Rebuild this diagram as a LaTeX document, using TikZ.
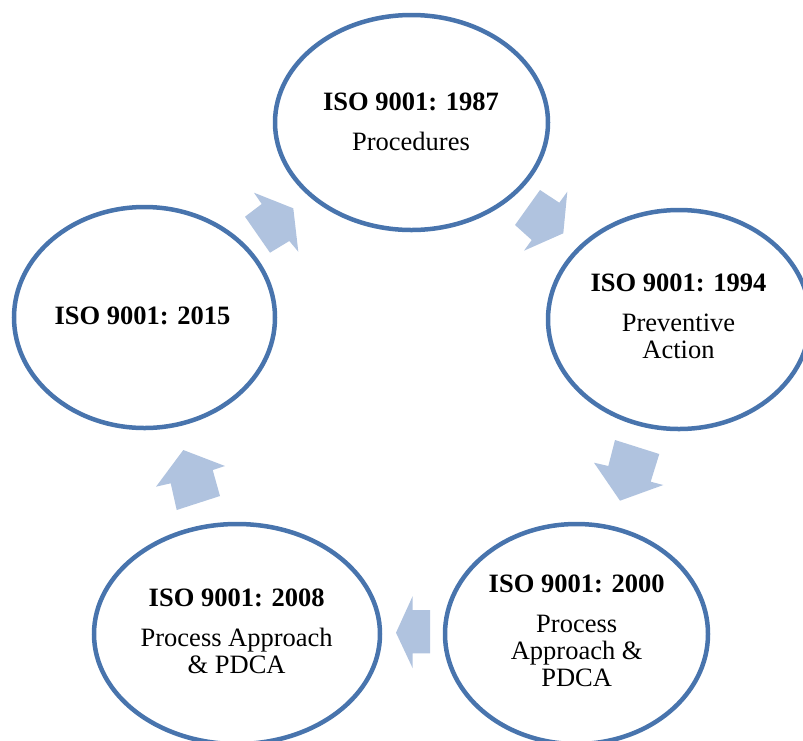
\documentclass[tikz,border=0pt]{standalone}
\usepackage{fontspec}
\setmainfont{Liberation Serif}
\usetikzlibrary{shapes.geometric}
\definecolor{ringblue}{RGB}{72,116,173}
\definecolor{arrowblue}{RGB}{176,195,223}
\tikzset{
  ring/.style={ellipse, draw=ringblue, line width=4.5pt, inner sep=0pt, fill=white},
  label/.style={align=center, inner sep=0pt, font=\fontsize{26.5}{27}\selectfont},
  blockarrow/.style={fill=arrowblue, draw=none}
}
\begin{document}
\begin{tikzpicture}[x=1pt,y=-1pt]
  \useasboundingbox (0,0) rectangle (803,740);
  \clip (0,0) rectangle (803,740);

  % cycle arrows
  \fill[blockarrow] (254,192.7) -- (293.3,208.3) -- (298.3,251.7) -- (289.3,241)
        -- (270,252.7) -- (245,216.7) -- (261.7,204) -- cycle;
  \fill[blockarrow] (540,190) -- (559.3,202.7) -- (567.3,191.7) -- (563.3,233.3)
        -- (524,250.7) -- (531.7,240) -- (515,225) -- cycle;
  \fill[blockarrow] (615,440) -- (659.3,454) -- (650.7,481.7) -- (663.3,485)
        -- (620,500.7) -- (594,462.7) -- (608.3,466) -- cycle;
  \fill[blockarrow] (430,610) -- (430,653.3) -- (412.7,653.3) -- (412.7,668.3)
        -- (396,632.7) -- (412.7,596) -- (412.7,610) -- cycle;
  \fill[blockarrow] (183.3,450) -- (225,466) -- (212.7,470) -- (220,496)
        -- (176.7,510) -- (170.7,483.3) -- (156,486.7) -- cycle;

  % stages
  \node[ring, minimum width=273pt, minimum height=215pt] (e1987) at (411.5,122.5) {};
  \node[ring, minimum width=262pt, minimum height=219pt] (e1994) at (679,319.5) {};
  \node[ring, minimum width=263pt, minimum height=220pt] (e2000) at (576.5,634) {};
  \node[ring, minimum width=286pt, minimum height=220pt] (e2008) at (237,634) {};
  \node[ring, minimum width=261pt, minimum height=221pt] (e2015) at (144.5,317.5) {};

  \node[label] (t1987) at (411,122.3) {\textbf{ISO 9001: 1987}\\[13pt]Procedures};
  \node[label] (t1994) at (678.5,316.3) {\textbf{ISO 9001: 1994}\\[13pt]Preventive\\Action};
  \node[label] (t2000) at (576.7,630.8) {\textbf{ISO 9001: 2000}\\[13pt]Process\\Approach \&\\PDCA};
  \node[label] (t2008) at (236.7,631.3) {\textbf{ISO 9001: 2008}\\[13pt]Process Approach\\\& PDCA};
  \node[label] (t2015) at (142.5,316.3) {\textbf{ISO 9001: 2015}};
\end{tikzpicture}
\end{document}
